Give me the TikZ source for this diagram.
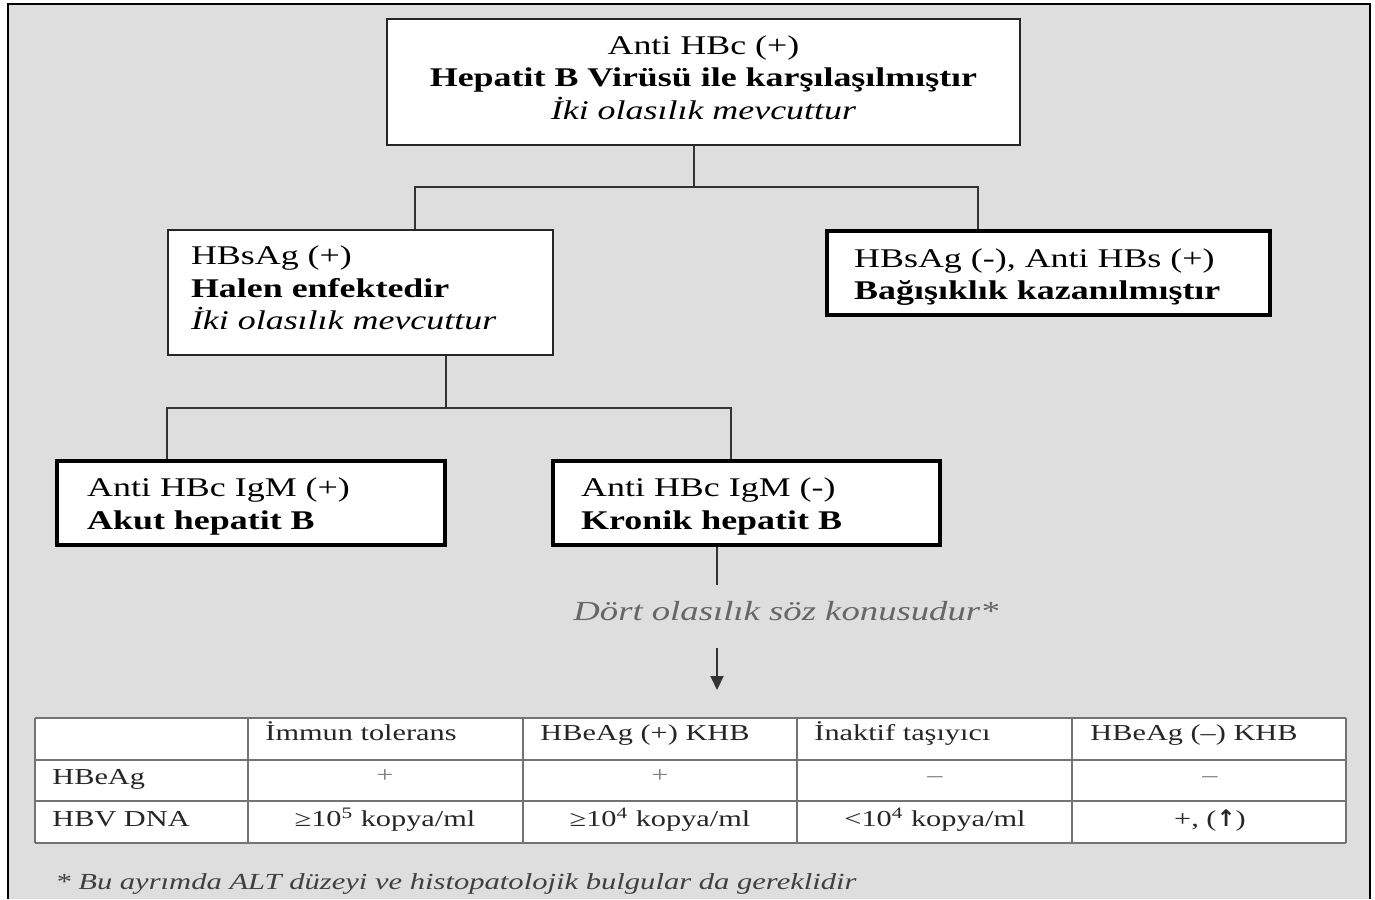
\documentclass[tikz,border=0pt]{standalone}
\usepackage{fontspec}
\setmainfont{Liberation Serif}[FakeStretch=1.33]
\newfontfamily\arrowfont{DejaVu Sans}
\usetikzlibrary{arrows.meta}
\definecolor{bg}{HTML}{DEDEDE}
\tikzset{box/.style={draw=black!85, fill=white, line width=1pt, inner ysep=0pt,
   font=\fontsize{13.5}{16.2}\selectfont},
 heavybox/.style={box, draw=black, line width=2.2pt},
 conn/.style={draw=black!80, line width=1pt},
 grid/.style={draw=black!55, line width=0.8pt},
 cell/.style={inner sep=0pt, text=black!85, font=\fontsize{11.4}{13}\selectfont},
 }

\begin{document}
\begin{tikzpicture}[x=0.5pt, y=-0.5pt]
    \useasboundingbox (0,0) rectangle (1375,899);
    \fill[bg] (8,4) rectangle (1370,899);
    \draw[line width=1pt] (8,899) -- (8,4) -- (1370,4) -- (1370,899);

    \node[box, align=center, minimum width=316.5pt, minimum height=63pt] (anti) at (703.5,82)
        {Anti HBc (+)\\\textbf{Hepatit B Virüsü ile karşılaşılmıştır}\\\textit{İki olasılık mevcuttur}\rule[-4.5pt]{0pt}{0pt}};
    \node[box, anchor=north west, align=left, text width=169.5pt, inner xsep=11.5pt, minimum height=62.5pt] (hbsag) at (167,229)
        {HBsAg (+)\\\textbf{Halen enfektedir}\\\textit{İki olasılık mevcuttur}\rule[-4.5pt]{0pt}{0pt}};
    \node[heavybox, anchor=north west, align=left, text width=194.5pt, inner xsep=13.5pt, minimum height=42pt] (bagis) at (825,229)
        {\rule{0pt}{13.5pt}HBsAg (-), Anti HBs (+)\\\textbf{Bağışıklık kazanılmıştır}};
    \node[heavybox, anchor=north west, align=left, text width=164pt, inner xsep=15pt, minimum height=42pt] (akut) at (55,459)
        {\rule{0pt}{12.5pt}Anti HBc IgM (+)\\\textbf{Akut hepatit B}};
    \node[heavybox, anchor=north west, align=left, text width=165.5pt, inner xsep=14pt, minimum height=42pt] (kronik) at (551,459)
        {\rule{0pt}{12.5pt}Anti HBc IgM (-)\\\textbf{Kronik hepatit B}};

    \coordinate (s1) at (694,187);
    \coordinate (s2) at (446,408);
    \draw[conn] (anti.south -| s1) -- (s1);
    \draw[conn] ([xshift=124pt]hbsag.north west) |- (s1) -| ([xshift=76.5pt]bagis.north west);
    \draw[conn] ([xshift=139.5pt]hbsag.south west) -- (s2);
    \draw[conn] ([xshift=56pt]akut.north west) |- (s2) -| ([xshift=90pt]kronik.north west);

    \node[font=\fontsize{13.8}{16}\selectfont\itshape, text=black!60, inner sep=0pt] (dort) at (786,611)
        {Dört olasılık söz konusudur*};
    \coordinate (d1) at (717,585);
    \coordinate (a1) at (717,648);
    \coordinate (a2) at (717,690);
    \draw[conn] ([xshift=83pt]kronik.south west) -- (d1);
    \draw[conn, -{Triangle[length=7pt, width=6.5pt]}] (a1) -- (a2);

    \fill[white] (35,718) rectangle (1346,843);
    \foreach \y in {718, 760, 801, 843} {
        \draw[grid] (35,\y) -- (1346,\y);
    }
    \foreach \x in {35, 248, 523, 797, 1072, 1346} {
        \draw[grid] (\x,718) -- (\x,843);
    }
    \foreach \x/\t [count=\i] in {265/İmmun tolerans, 540/HBeAg (+) KHB, 814/İnaktif taşıyıcı, 1090/HBeAg (–) KHB} {
        \node[cell, anchor=base west] (h\i) at (\x,740) {\t};
    }
    \node[cell, anchor=base west] (r1) at (52,784) {HBeAg};
    \node[cell, anchor=base west] (r2) at (52,826) {HBV DNA};
    \foreach \x/\t [count=\i] in {385/+, 660/+, 935/–, 1210/–} {
        \node[cell, anchor=base, text=black!50] (v\i) at (\x,782) {\t};
    }
    \foreach \x/\t [count=\i] in {385/{≥10\textsuperscript{5} kopya/ml}, 660/{≥10\textsuperscript{4} kopya/ml},
        935/{<10\textsuperscript{4} kopya/ml}, 1210/{+, ({\arrowfont\bfseries ↑})}} {
        \node[cell, anchor=base] (w\i) at (\x,826) {\t};
    }

    \node[anchor=west, inner sep=0pt, font=\fontsize{11.5}{13}\selectfont\itshape, text=black!75] (note) at (55,884)
        {* Bu ayrımda ALT düzeyi ve histopatolojik bulgular da gereklidir};
\end{tikzpicture}
\end{document}
